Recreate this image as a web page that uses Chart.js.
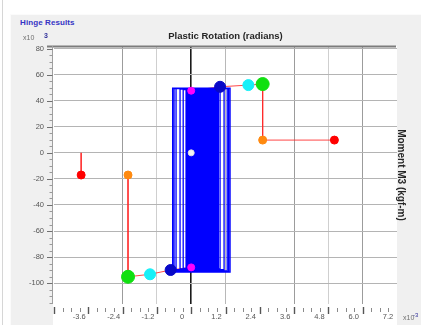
<!DOCTYPE html>
<html><head><meta charset="utf-8">
<script src="https://cdn.jsdelivr.net/npm/chart.js@4.4.1/dist/chart.umd.min.js"></script>
<style>
html,body{margin:0;padding:0;background:#fff;}
#wrap{position:relative;width:421px;height:325px;overflow:hidden;}
#sep{position:absolute;left:2px;top:0;bottom:0;width:1px;background:#d6d6d6}
#panel{position:absolute;left:10px;top:14px;right:0;bottom:0;background:#f0f0f0;border-left:1px solid #fbfbfb;border-top:1px solid #fbfbfb}
#hdr{position:absolute;left:20px;top:18px;font:bold 8px "Liberation Sans",Arial,sans-serif;color:#3434c4;letter-spacing:0.1px}
canvas{position:absolute;left:0;top:0}
</style></head><body>
<div id="wrap"><div id="sep"></div><div id="panel"></div><div id="hdr">Hinge Results</div><canvas id="c" width="421" height="325"></canvas></div>
<script>
// Plastic rotation in 1e-3 rad, moment in 1e3 kgf-m

// Backbone curve: E- (top), E-, gap, D-, C-, LS-, IO-, B-, A, B+, IO+, LS+, C+, D+, E+
const backboneRot = [-3.85, -3.85, null, -2.21, -2.21, -1.44, -0.72, 0, 0, 0, 1.01, 2.00, 2.50, 2.50, 5.01];
const backboneMom = [0, -17.0, null, -17.0, -95.1, -93.2, -89.9, -87.9, 0, 47.7, 50.7, 52.0, 52.8, 9.8, 9.8];

// Marker points on the backbone (indices into the arrays above)
const pointA = [8];
const pointB = [7, 9];
const pointIO = [6, 10];
const pointLS = [5, 11];
const pointCP = [4, 12];
const pointD = [3, 13];
const pointE = [1, 14];

// Hysteresis cycles: reversal rotations and plateau moments
const hystRight = [0.62, 0.85, 0.95, 1.01, 1.15, 1.26, 1.36, 1.31, 0.93, 0.87, 0.80, 0.94, 0.70, 0.90, 0.77, 0.92, 0.66, 0.86, 0.74, 0.91, 0.58, 0.83, 0.95, 0.71, 0.88, 0.64,
                   0.48, 0.56, 0.40, 0.52, 0.35, 0.60, 0.44, 0.50, 0.38, 0.55, 0.46, 0.42, 0.53, 0.33];
const hystLeft  = [-0.14, -0.18, -0.28, -0.39, -0.53, -0.65, -0.60, -0.05, 0.02, -0.10, 0.10, -0.08, 0.05, -0.12, 0.15, -0.02, 0.08, -0.13, 0.20, -0.06, 0.12, -0.10, 0.04, -0.14, 0.00, 0.30,
                   0.26, 0.34, 0.22, 0.30, 0.18, 0.38, 0.24, 0.28, 0.21, 0.36, 0.27, 0.25, 0.31, 0.17];
const hystTop   = [47.7, 48.1, 48.4, 48.6, 49.0, 49.3, 49.6, 49.4, 48.5, 48.3, 48.0, 48.6, 47.9, 48.4, 48.1, 48.5, 47.8, 48.2, 48.0, 48.5, 47.8, 48.2, 48.6, 47.9, 48.3, 47.9,
                   48.0, 48.2, 47.9, 48.1, 47.8, 48.3, 48.0, 48.1, 47.9, 48.2, 48.0, 47.9, 48.1, 47.8];
const hystBottom= [-87.9, -88.3, -88.6, -89.0, -89.6, -90.6, -91.6, -91.2, -88.8, -88.5, -88.2, -88.7, -88.0, -88.6, -88.2, -88.7, -88.0, -88.4, -88.1, -88.6, -87.9, -88.3, -88.7, -88.0, -88.4, -88.0,
                   -88.1, -88.3, -88.0, -88.2, -87.9, -88.4, -88.1, -88.2, -88.0, -88.3, -88.1, -88.0, -88.2, -87.9];

// Axis ticks
const xTickValues = [-3.6, -2.4, -1.2, 0, 1.2, 2.4, 3.6, 4.8, 6.0, 7.2];
const xTickLabels = ['-3.6', '-2.4', '-1.2', '0', '1.2', '2.4', '3.6', '4.8', '6.0', '7.2'];
const xGridShade = {'-2.4': '#9c9c9c', '-1.2': '#cfcfcf', '1.2': '#b8b8b8', '3.6': '#9c9c9c', '4.8': '#cfcfcf', '6': '#9c9c9c'};
const xMinorStep = 0.3;
const yTickValues = [-100, -80, -60, -40, -20, 0, 20, 40, 60, 80];
const yTickLabels = ['-100', '-80', '-60', '-40', '-20', '0', '20', '40', '60', '80'];
const yMinorStep = 5;

const FONT = '"Liberation Sans", Arial, sans-serif';

function backbonePoints(idx) {
  return idx.map(i => ({x: backboneRot[i], y: backboneMom[i]}));
}

const hystPath = [{x: 0, y: 0}];
for (let i = 0; i < hystRight.length; i++) {
  const startX = i === 0 ? 0 : hystLeft[i - 1];
  hystPath.push({x: startX, y: hystTop[i]});
  hystPath.push({x: hystRight[i], y: hystTop[i]});
  hystPath.push({x: hystRight[i], y: hystBottom[i]});
  hystPath.push({x: hystLeft[i], y: hystBottom[i]});
}

const backbonePath = backboneRot.map((r, i) => ({x: r, y: backboneMom[i]}));

function markerSet(idx, color, radius, border) {
  return {
    data: backbonePoints(idx), showLine: false, order: 0,
    pointRadius: radius, pointHoverRadius: radius,
    pointBackgroundColor: color, pointBorderColor: border || color, pointBorderWidth: 1
  };
}

const framePlugin = {
  id: 'frame',
  beforeDraw(chart) {
    const {ctx, chartArea: a} = chart;
    ctx.save();
    ctx.fillStyle = '#ffffff';
    ctx.fillRect(a.left - 1, a.top, a.right - a.left + 1, 325 - a.top);
    ctx.restore();
  },
  afterDraw(chart) {
    const {ctx, chartArea: a, scales} = chart;
    const xs = scales.x, ys = scales.y;
    ctx.save();
    // frame lines
    ctx.strokeStyle = '#7c7c7c'; ctx.lineWidth = 2;
    ctx.beginPath(); ctx.moveTo(a.left - 7, a.top + 0.5); ctx.lineTo(a.right - 1, a.top + 0.5); ctx.stroke();
    ctx.strokeStyle = '#a0a0a0'; ctx.lineWidth = 1;
    ctx.beginPath(); ctx.moveTo(a.left - 1.5, a.top); ctx.lineTo(a.left - 1.5, a.bottom); ctx.stroke();
    // y tick marks
    for (let v = -115; v <= 80; v += yMinorStep) {
      const py = Math.round(ys.getPixelForValue(v)) + 0.5;
      const major = v % 20 === 0;
      ctx.strokeStyle = major ? '#707070' : '#9a9a9a';
      ctx.beginPath(); ctx.moveTo(a.left - (major ? 7 : 4.5), py); ctx.lineTo(a.left - 1.5, py); ctx.stroke();
    }
    // x tick marks
    for (let k = -16; k <= 24; k++) {
      const v = k * xMinorStep;
      const px = Math.round(xs.getPixelForValue(v)) + 0.5;
      if (px < a.left || px > a.right) continue;
      const major = k % 4 === 0;
      ctx.strokeStyle = major ? '#555' : '#8a8a8a';
      ctx.lineWidth = major ? 1.4 : 1;
      ctx.beginPath(); ctx.moveTo(px, a.bottom + (major ? 3 : 4)); ctx.lineTo(px, a.bottom + (major ? 10 : 8)); ctx.stroke();
    }
    // titles
    ctx.fillStyle = '#262626';
    ctx.font = 'bold 9.5px ' + FONT;
    ctx.textAlign = 'center'; ctx.textBaseline = 'middle';
    ctx.fillText('Plastic Rotation (radians)', (a.left + a.right) / 2, 36);
    ctx.save();
    ctx.translate(401, (a.top + a.bottom) / 2);
    ctx.rotate(Math.PI / 2);
    ctx.font = 'bold 10px ' + FONT;
    ctx.fillText('Moment M3 (kgf-m)', 0, 0);
    ctx.restore();
    // exponent notes
    ctx.textAlign = 'left';
    ctx.font = '7px ' + FONT; ctx.fillStyle = '#707070';
    ctx.fillText('x10', 23, 38);
    ctx.fillStyle = '#30309a'; ctx.font = 'bold 7px ' + FONT;
    ctx.fillText('3', 44, 36);
    ctx.font = '7px ' + FONT; ctx.fillStyle = '#707070';
    ctx.fillText('x10', 403, 318);
    ctx.fillStyle = '#30309a'; ctx.font = '6px ' + FONT;
    ctx.fillText('-3', 413, 315);
    ctx.restore();
  }
};

new Chart(document.getElementById('c'), {
  type: 'scatter',
  data: {
    datasets: [
      markerSet(pointA, '#f2f2f2', 3, '#e0e0e0'),
      markerSet(pointB, '#ff00ff', 3.5),
      markerSet(pointIO, '#0808c8', 5.5),
      markerSet(pointLS, '#18f0f8', 5.5),
      markerSet(pointCP, '#10e010', 6.5),
      markerSet(pointD, '#ff8a10', 4),
      markerSet(pointE, '#ff0000', 4),
      {
        data: hystPath, showLine: true, order: 1, pointRadius: 0,
        borderColor: '#0000ff', borderWidth: 1.3, tension: 0, spanGaps: false
      },
      {
        data: backbonePath, showLine: true, order: 2, pointRadius: 0,
        borderColor: 'rgba(255,40,40,0.85)', borderWidth: 1, tension: 0, spanGaps: false
      }
    ]
  },
  options: {
    responsive: false, animation: false, devicePixelRatio: 1,
    layout: {padding: {left: 0, right: 24, top: 46, bottom: 0}},
    plugins: {legend: {display: false}, tooltip: {enabled: false}, title: {display: false}},
    scales: {
      x: {
        type: 'linear', min: -4.8, max: 7.2,
        afterFit(s) { s.height = 21; },
        afterBuildTicks(s) { s.ticks = xTickValues.map(v => ({value: v})); },
        border: {display: false},
        grid: {
          drawTicks: false,
          color: c => c.tick && c.tick.value === 0 ? '#1a1a1a' : (xGridShade[String(c.tick && c.tick.value)] || 'rgba(0,0,0,0)'),
          lineWidth: c => c.tick && c.tick.value === 0 ? 1.6 : 1
        },
        ticks: {
          autoSkip: false, maxRotation: 0, padding: 8, labelOffset: -9,
          color: '#555', font: {family: FONT, size: 7.5},
          callback: (v, i) => xTickLabels[i]
        }
      },
      y: {
        type: 'linear', min: -116, max: 82,
        afterFit(s) { s.width = 54; },
        afterBuildTicks(s) { s.ticks = yTickValues.map(v => ({value: v})); },
        border: {display: false},
        grid: {drawTicks: false, color: '#b4b4b4', lineWidth: 1},
        ticks: {
          padding: 10, color: '#555', font: {family: FONT, size: 7.5},
          callback: (v, i) => yTickLabels[i]
        }
      }
    }
  },
  plugins: [framePlugin]
});
</script>
</body></html>
